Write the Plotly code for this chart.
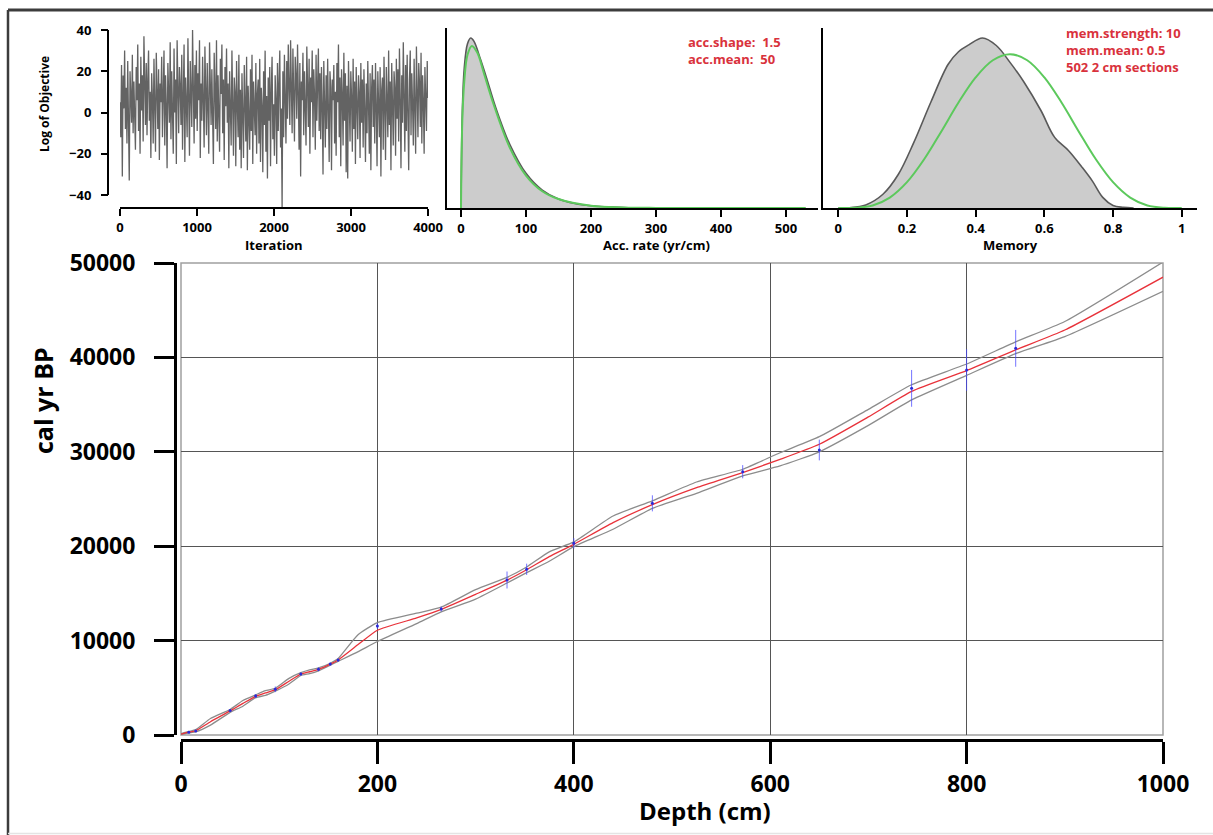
import plotly.graph_objects as go
import numpy as np

W, H = 1213, 835
def px(x):
    return x / W
def py(y):
    return 1 - y / H

FONT = "Open Sans"

# ---------------- data ----------------
# MCMC trace (log of objective)
log_objective = [
    5, -12, 23, -31, 18, 2, 30, -8, 12, -15, 25, 0, -33, 20, 8, -5, 28, -10, 15, 3,
    -18, 22, 6, 33, -9, 14, -20, 27, 1, 18, -14, 37, 4, -6, 24, -11, 16, 30, -4, 10,
    -22, 19, 7, -15, 26, 2, -19, 29, 11, -8, 21, -23, 14, 5, 27, -12, 9, 30, -16, 18,
    3, -27, 24, 12, -5, 34, -13, 20, 6, -20, 31, 0, 16, -25, 35, 8, -10, 22, 13, -6,
    28, -18, 10, 33, -24, 17, 4, -12, 36, 2, -21, 25, 9, -7, 40, 11, -15, 23, -3, 30,
    -9, 19, 6, 35, -22, 14, -4, 27, 10, -17, 32, 1, -11, 24, 7, -20, 34, 15, -6, 21,
    2, -25, 29, 12, -8, 35, -14, 18, 5, -19, 26, 9, 33, -10, 16, -23, 22, 3, 31, -5,
    14, -27, 20, 7, -16, 30, -2, -21, 17, 10, -26, 25, 4, -12, 28, -18, 11, -27, 19, 0,
    -22, 23, 6, -14, 27, -28, 13, 2, -18, 21, -9, 28, -25, 15, 5, -11, 24, -20, 9, 16,
    -15, 26, -24, 12, 3, -29, 20, -6, 30, -19, 8, -32, 17, -4, 22, -26, 11, 27, -13, 4,
    -21, 18, 6, -25, 24, -9, 14, 30, -17, 2, -46, 20, -12, 28, 7, -15, 25, -3, 33, 10,
    -6, 35, 12, -10, 31, 4, -14, 27, 18, -3, 33, 9, -18, 24, -31, 15, 6, 29, -11, 20,
    2, -16, 32, 11, -7, 26, -20, 17, 5, 30, -12, 21, 8, -18, 28, -4, 14, 31, -9, 19,
    -13, 22, 3, -30, 25, 9, -17, 18, -8, 26, 1, -24, 20, 12, -28, 16, 6, 23, -15, 10,
    -21, 24, 5, 33, -12, 17, -26, 21, 8, -16, 29, -4, 19, -29, 13, -32, 25, 3, -14, 20,
    7, -19, 26, -8, 15, -25, 22, 4, -13, 18, 10, -22, 24, -5, 16, -17, 21, 2, -24, 14,
    -10, 25, 6, -20, 19, -28, 12, 23, -7, 16, -15, 24, 3, -26, 20, 9, -12, 22, -31, 11,
    17, -18, 27, 2, -23, 22, 8, -12, 30, -6, 15, -28, 24, 5, -16, 20, 12, -21, 26, -3,
    21, -14, 31, 7, -27, 18, -5, 34, 10, -19, 23, -9, 28, 1, -28, 16, 30, -11, 19, 4,
    -16, 26, 9, -20, 32, 3, -12, 24, 14, -7, 29, -15, 18, 6, -20, 22, 11, -9, 25, 7,
]
iterations = np.linspace(0, 4000, len(log_objective))

# Accumulation rate: posterior (grey) and prior (green)
acc_post_x = [0, 2, 5, 10, 15, 20, 30, 40, 50, 60, 75, 100, 125, 150, 175, 200, 250, 300, 400, 530]
acc_post_y = [0, 0.0085, 0.0125, 0.0147, 0.0152, 0.0149, 0.0133, 0.0115, 0.0096, 0.0079,
              0.0057, 0.0031, 0.0016, 0.0008, 0.0004, 0.0002, 0.00005, 0.00001, 0, 0]
acc_prior_x = [0, 2, 5, 10, 16.7, 25, 35, 50, 75, 100, 125, 150, 200, 250, 300, 530]
acc_prior_y = [0, 0.0078, 0.0113, 0.0137, 0.0145, 0.0139, 0.0121, 0.0093, 0.0054, 0.0029,
               0.0015, 0.0008, 0.0002, 0.00005, 0.00001, 0]

# Memory: posterior (grey) and prior (green)
mem_post_x = [0.00, 0.03, 0.08, 0.13, 0.175, 0.22, 0.27, 0.32, 0.35, 0.38, 0.42, 0.46, 0.50,
              0.54, 0.59, 0.63, 0.67, 0.71, 0.74, 0.77, 0.80, 0.83, 0.86]
mem_post_y = [0, 0.005, 0.05, 0.22, 0.54, 1.05, 1.70, 2.30, 2.50, 2.61, 2.72, 2.60, 2.33,
              2.02, 1.56, 1.13, 0.92, 0.65, 0.43, 0.17, 0.04, 0.01, 0]
mem_prior_x = [0, 0.05, 0.1, 0.15, 0.2, 0.25, 0.3, 0.35, 0.4, 0.45, 0.5,
               0.55, 0.6, 0.65, 0.7, 0.75, 0.8, 0.85, 0.9, 0.95, 1.0]
mem_prior_y = [0, 0.003, 0.041, 0.167, 0.413, 0.779, 1.225, 1.688, 2.090, 2.364, 2.461,
               2.364, 2.090, 1.688, 1.225, 0.779, 0.413, 0.167, 0.041, 0.003, 0]

# Age-depth model
model_depth = [0, 8, 15, 30, 50, 63, 76, 86, 96, 110, 122, 131, 140, 152, 160, 180, 200, 240,
               265, 300, 332, 352, 375, 400, 440, 480, 525, 572, 610, 650, 700, 744, 800,
               850, 900, 1000]
model_mean = [100, 300, 450, 1400, 2550, 3350, 4100, 4450, 4800, 5700, 6450, 6700, 6950, 7500,
              7950, 9550, 11100, 12400, 13300, 14900, 16400, 17500, 18900, 20200, 22500, 24400,
              26200, 27800, 29200, 30800, 33700, 36400, 38600, 40800, 42900, 48500]
model_upper = [150, 380, 560, 1750, 2700, 3650, 4250, 4700, 4950, 6000, 6600, 6900, 7100, 7600,
               8100, 10600, 11900, 12900, 13550, 15400, 16700, 17800, 19400, 20450, 23200, 24800,
               26800, 28150, 29900, 31600, 34500, 37100, 39300, 41650, 43800, 50100]
model_lower = [50, 220, 340, 1050, 2400, 3050, 3950, 4200, 4650, 5400, 6300, 6500, 6800, 7400,
               7800, 8800, 9900, 11800, 13050, 14400, 16100, 17200, 18400, 19950, 21800, 24000,
               25600, 27450, 28500, 30000, 32800, 35500, 38100, 40400, 42200, 47000]

date_depth = [8, 15, 50, 76, 96, 122, 140, 152, 160, 200, 265, 332, 352, 400, 480, 572, 650,
              744, 800, 850]
date_age = [300, 420, 2600, 4130, 4840, 6460, 6960, 7520, 7940, 11550, 13350, 16420, 17550,
            20300, 24540, 27890, 30190, 36720, 38660, 40960]
date_err = [100, 100, 150, 200, 300, 150, 200, 150, 150, 300, 250, 900, 600, 550, 850, 700,
            1100, 1950, 2200, 1950]

iter_ticks = [0, 1000, 2000, 3000, 4000]
obj_ticks = [-40, -20, 0, 20, 40]
acc_ticks = [0, 100, 200, 300, 400, 500]
mem_ticks = [0, 0.2, 0.4, 0.6, 0.8, 1]
mem_ticklabels = ["0", "0.2", "0.4", "0.6", "0.8", "1"]
depth_ticks = [0, 200, 400, 600, 800, 1000]
age_ticks = [0, 10000, 20000, 30000, 40000, 50000]

acc_text = ["acc.shape:\u00a0 1.5", "acc.mean:\u00a0 50"]
mem_text = ["mem.strength: 10", "mem.mean: 0.5", "502 2 cm sections"]

# ---------------- figure ----------------
GREY_FILL = "#cccccc"
GREY_LINE = "#595959"
GREEN = "#5cc95c"
RED_TXT = "#d9323c"

fig = go.Figure()

fig.add_trace(go.Scatter(x=iterations, y=log_objective, mode="lines",
                         line=dict(color="#636363", width=1.3), xaxis="x", yaxis="y"))

fig.add_trace(go.Scatter(x=acc_post_x, y=acc_post_y, mode="lines", fill="tozeroy",
                         fillcolor=GREY_FILL, line=dict(color=GREY_LINE, width=1.6, shape="spline"),
                         xaxis="x2", yaxis="y2"))
fig.add_trace(go.Scatter(x=acc_prior_x, y=acc_prior_y, mode="lines",
                         line=dict(color=GREEN, width=2, shape="spline"), xaxis="x2", yaxis="y2"))

fig.add_trace(go.Scatter(x=mem_post_x, y=mem_post_y, mode="lines", fill="tozeroy",
                         fillcolor=GREY_FILL, line=dict(color=GREY_LINE, width=1.6, shape="spline"),
                         xaxis="x3", yaxis="y3"))
fig.add_trace(go.Scatter(x=mem_prior_x, y=mem_prior_y, mode="lines",
                         line=dict(color=GREEN, width=2, shape="spline"), xaxis="x3", yaxis="y3"))

band_line = dict(color="#8c8c8c", width=1.3, shape="spline", smoothing=0.5)
fig.add_trace(go.Scatter(x=model_depth, y=model_upper, mode="lines", line=band_line,
                         xaxis="x4", yaxis="y4"))
fig.add_trace(go.Scatter(x=model_depth, y=model_lower, mode="lines", line=band_line,
                         xaxis="x4", yaxis="y4"))
fig.add_trace(go.Scatter(x=model_depth, y=model_mean, mode="lines",
                         line=dict(color="#e8323a", width=1.3, shape="spline", smoothing=0.5),
                         xaxis="x4", yaxis="y4"))
fig.add_trace(go.Scatter(x=date_depth, y=date_age, mode="markers",
                         marker=dict(color="#2a2ad8", size=3),
                         error_y=dict(type="data", array=date_err, visible=True,
                                      color="rgba(70,70,255,0.75)", thickness=1, width=0),
                         xaxis="x4", yaxis="y4"))

small_font = dict(family=FONT, size=13, color="black", weight=700)
big_font = dict(family=FONT, size=23, color="black", weight=700)

common = dict(showgrid=False, zeroline=False, linecolor="black", tickcolor="black",
              automargin=False)

fig.update_layout(
    width=W, height=H, autosize=False,
    margin=dict(l=0, r=0, t=0, b=0, pad=0, autoexpand=False),
    paper_bgcolor="white", plot_bgcolor="white",
    showlegend=False,
    xaxis=dict(domain=[px(120), px(428)], range=[0, 4000], anchor="y", showline=True, linewidth=2,
               ticks="outside", ticklen=7, tickwidth=2, tickvals=iter_ticks, tickfont=small_font,
               **common),
    yaxis=dict(domain=[py(207.4), py(21.75)], range=[-46, 44], anchor="free", position=px(108),
               showline=False, ticks="outside", ticklen=7, tickwidth=2, tickvals=obj_ticks,
               tickfont=small_font, ticklabelstandoff=7, **common),
    xaxis2=dict(domain=[px(447), px(818)], range=[-21.54, 549.2], anchor="y2", showline=True,
                linewidth=2, ticks="outside", ticklen=7, tickwidth=2, tickvals=acc_ticks,
                tickfont=small_font, **common),
    yaxis2=dict(domain=[py(208), py(28)], range=[0, 0.0161], anchor="x2", showline=True,
                linewidth=2, ticks="", showticklabels=False, **common),
    xaxis3=dict(domain=[px(823), px(1197)], range=[-0.04455, 1.0445], anchor="y3", showline=True,
                linewidth=2, ticks="outside", ticklen=7, tickwidth=2, tickvals=mem_ticks,
                ticktext=mem_ticklabels, tickfont=small_font, **common),
    yaxis3=dict(domain=[py(208), py(28)], range=[0, 2.88], anchor="x3", showline=True,
                linewidth=2, ticks="", showticklabels=False, **common),
    xaxis4=dict(domain=[px(181), px(1163)], range=[0, 1000], anchor="free", position=py(740),
                showline=True, linewidth=3, linecolor="black", ticks="outside", ticklen=22,
                tickwidth=3, tickcolor="black", tickvals=depth_ticks, tickfont=big_font,
                showgrid=True, gridcolor="#555555", gridwidth=1, zeroline=False,
                automargin=False),
    yaxis4=dict(domain=[py(735), py(263)], range=[0, 50000], anchor="free", position=px(175),
                showline=True, linewidth=3, linecolor="black", ticks="outside", ticklen=20,
                tickwidth=3, tickcolor="black", tickvals=age_ticks, tickformat="d",
                tickfont=big_font, ticklabelstandoff=14, showgrid=True, gridcolor="#555555",
                gridwidth=1, zeroline=False, automargin=False),
)

shapes = [
    dict(type="rect", xref="paper", yref="paper", x0=px(181), x1=px(1163), y0=py(735), y1=py(263),
         line=dict(color="#a0a0a0", width=1.5), layer="below"),
    dict(type="line", xref="paper", yref="y", x0=px(108), x1=px(108),
         y0=min(obj_ticks), y1=max(obj_ticks), line=dict(color="black", width=2)),
    dict(type="line", xref="paper", yref="paper", x0=px(8), x1=px(8), y0=0, y1=py(10),
         line=dict(color="#3c3c3c", width=2.5)),
    dict(type="line", xref="paper", yref="paper", x0=px(8), x1=1, y0=py(10), y1=py(10),
         line=dict(color="#3c3c3c", width=3)),
    dict(type="line", xref="paper", yref="paper", x0=px(8), x1=1, y0=py(833.5), y1=py(833.5),
         line=dict(color="#e4e4e4", width=1.5)),
]
fig.update_layout(shapes=shapes)

def ann(text, x, y, font, xanchor="center", yanchor="middle", angle=0, align="center"):
    fig.add_annotation(text=text, x=x, y=y, xref="paper", yref="paper", showarrow=False,
                       xanchor=xanchor, yanchor=yanchor, font=font, textangle=angle,
                       borderpad=0, align=align)

ann("Iteration", px(274), py(245), small_font)
ann("Acc. rate (yr/cm)", px(656), py(245), small_font)
ann("Memory", px(1010), py(245), small_font)
ann("Log of Objective", px(45), py(104), dict(family=FONT, size=12, color="black", weight=700),
    angle=-90)
ann("Depth (cm)", px(705), py(810), dict(family=FONT, size=24, color="black", weight=700))
ann("cal yr BP", px(43), py(401), dict(family=FONT, size=25, color="black", weight=700), angle=-90)

red_font = dict(family=FONT, size=13, color=RED_TXT, weight=700)
ann("<br>".join(acc_text), px(687), py(50.5), red_font, xanchor="left", yanchor="middle",
    align="left")
ann("<br>".join(mem_text), px(1065), py(50), red_font, xanchor="left", yanchor="middle",
    align="left")

fig.write_html("out.html", config={"displayModeBar": False},
               post_script="document.body.style.margin='0px';document.body.style.overflow='hidden';")
